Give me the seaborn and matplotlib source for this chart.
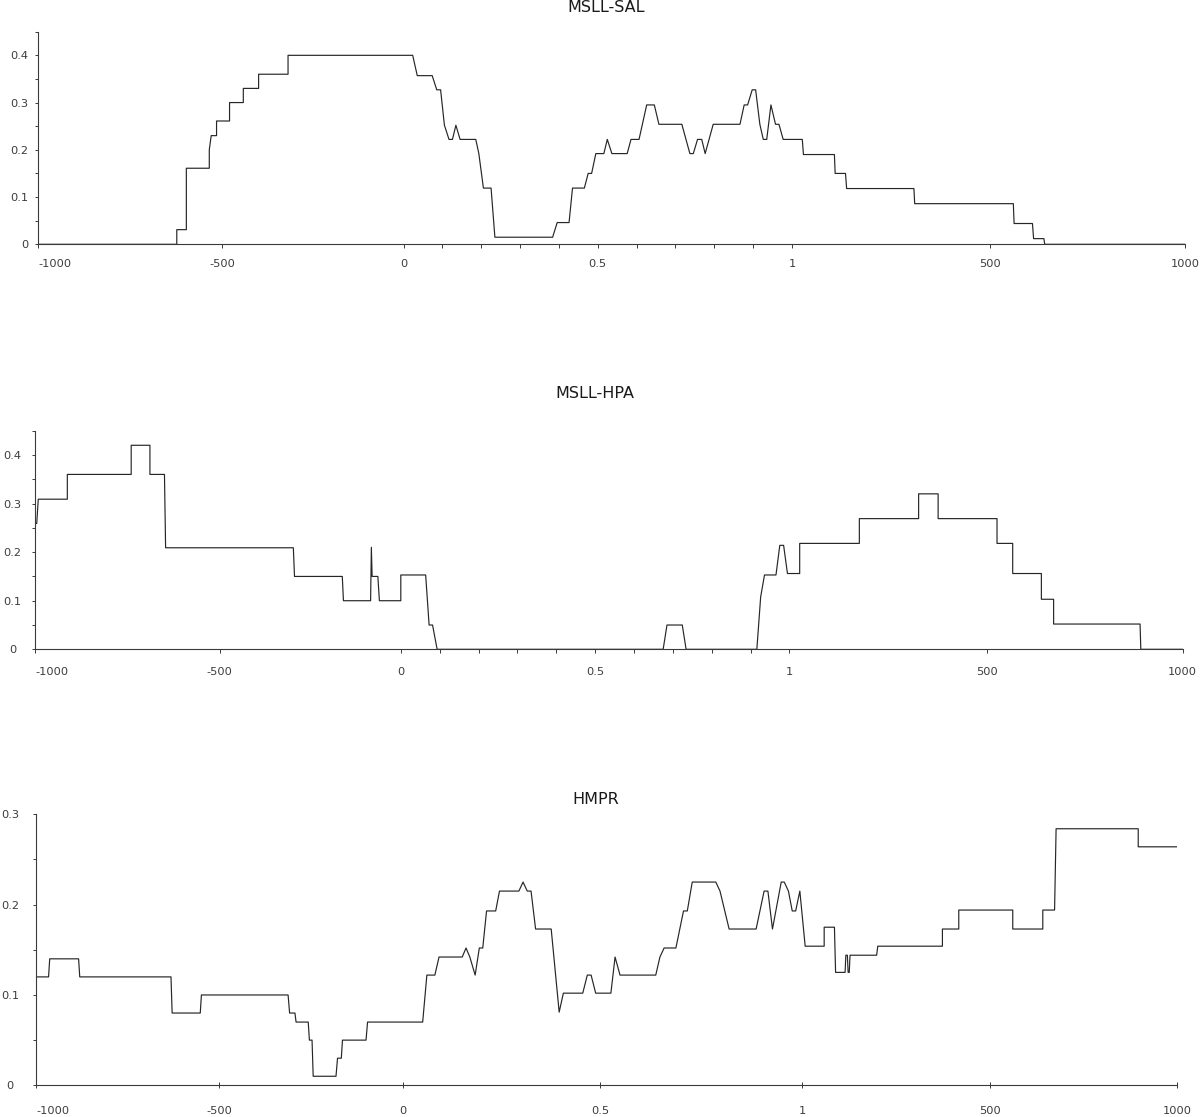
import matplotlib
matplotlib.use("Agg")
import matplotlib.pyplot as plt
import pandas as pd
import seaborn as sns

FIG_W, FIG_H = 1200, 1117

# x = position along the meta-gene track (0..300 -> 1000 bp upstream, gene body, 1000 bp downstream)
SAL_X = [0, 36.3, 36.3, 38.8, 38.8, 44.8, 44.8, 45.3, 46.7, 46.7, 50.1, 50.1, 53.7, 53.7, 57.7, 57.7,
         65.4, 65.4, 98.0, 99.2, 103.1, 104.3, 105.3, 106.3, 107.5, 108.4, 109.3, 110.4, 114.5, 115.3,
         116.5, 118.5, 119.5, 134.6, 135.8, 138.9, 139.8, 142.9, 143.9, 144.8, 145.9, 148.0, 148.9,
         150.1, 154.1, 155.1, 157.2, 159.2, 161.2, 162.4, 168.4, 170.5, 171.4, 172.5, 173.6, 174.5,
         176.6, 183.6, 184.7, 185.6, 186.8, 187.7, 188.8, 189.7, 190.6, 191.7, 192.9, 193.8, 194.9,
         199.9, 200.2, 208.3, 208.5, 211.2, 211.5, 229.1, 229.3, 255.1, 255.3, 260.1, 260.4, 263.1,
         263.3, 300]
SAL_Y = [0, 0, 0.031, 0.031, 0.161, 0.161, 0.200, 0.230, 0.230, 0.261, 0.261, 0.300, 0.300, 0.330,
         0.330, 0.360, 0.360, 0.400, 0.400, 0.357, 0.357, 0.327, 0.327, 0.252, 0.222, 0.222, 0.252,
         0.222, 0.222, 0.192, 0.119, 0.119, 0.015, 0.015, 0.046, 0.046, 0.119, 0.119, 0.150, 0.150,
         0.192, 0.192, 0.222, 0.192, 0.192, 0.222, 0.222, 0.295, 0.295, 0.254, 0.254, 0.192, 0.192,
         0.222, 0.222, 0.192, 0.254, 0.254, 0.295, 0.295, 0.327, 0.327, 0.254, 0.222, 0.222, 0.295,
         0.254, 0.254, 0.222, 0.222, 0.190, 0.190, 0.150, 0.150, 0.118, 0.118, 0.086, 0.086, 0.044,
         0.044, 0.012, 0.012, 0, 0]

HPA_X = [0, 0.4, 0.8, 8.4, 8.4, 25.1, 25.1, 30.0, 30.0, 33.8, 34.1, 67.5, 67.8, 80.3, 80.6, 87.7,
         87.9, 88.1, 89.6, 90.0, 95.6, 95.6, 102.1, 103.0, 103.9, 105.1, 164.2, 165.2, 169.2, 170.2,
         188.7, 189.7, 190.7, 193.7, 194.7, 195.7, 196.7, 199.9, 199.9, 215.5, 215.5, 231.0, 231.0,
         236.1, 236.1, 251.5, 251.5, 255.6, 255.6, 263.1, 263.1, 266.3, 266.3, 288.9, 289.1, 300]
HPA_Y = [0.259, 0.259, 0.309, 0.309, 0.360, 0.360, 0.420, 0.420, 0.360, 0.360, 0.209, 0.209, 0.150,
         0.150, 0.100, 0.100, 0.210, 0.150, 0.150, 0.100, 0.100, 0.153, 0.153, 0.050, 0.050, 0, 0,
         0.050, 0.050, 0, 0, 0.108, 0.153, 0.153, 0.214, 0.214, 0.156, 0.156, 0.218, 0.218, 0.269,
         0.269, 0.320, 0.320, 0.269, 0.269, 0.218, 0.218, 0.156, 0.156, 0.103, 0.103, 0.052, 0.052,
         0, 0]

HMPR_X = [0, 3.2, 3.5, 11.1, 11.4, 35.4, 35.7, 43.1, 43.4, 66.2, 66.6, 68.0, 68.3, 71.5, 71.8, 72.5,
          72.8, 78.8, 79.2, 80.2, 80.5, 86.7, 87.1, 101.6, 102.7, 104.8, 105.9, 112.0, 113.0, 114.0,
          115.4, 116.5, 117.4, 118.4, 120.8, 121.8, 126.9, 128.0, 129.1, 130.1, 131.3, 135.4, 137.5,
          138.6, 143.7, 144.9, 145.9, 147.1, 151.1, 152.2, 153.5, 162.9, 164.0, 165.1, 168.2, 170.2,
          171.2, 172.5, 178.7, 179.8, 182.2, 189.3, 191.4, 192.4, 193.6, 195.9, 196.7, 197.8, 198.8,
          199.7, 200.8, 202.2, 207.2, 207.2, 209.9, 210.2, 212.7, 212.9, 213.3, 213.5, 213.8, 214.0,
          221.0, 221.3, 238.3, 238.3, 242.6, 242.6, 256.8, 256.8, 264.7, 264.7, 267.8, 268.2, 289.8,
          289.8, 300]
HMPR_Y = [0.120, 0.120, 0.140, 0.140, 0.120, 0.120, 0.080, 0.080, 0.100, 0.100, 0.080, 0.080, 0.070,
          0.070, 0.050, 0.050, 0.010, 0.010, 0.030, 0.030, 0.050, 0.050, 0.070, 0.070, 0.122, 0.122,
          0.142, 0.142, 0.152, 0.142, 0.122, 0.152, 0.152, 0.193, 0.193, 0.215, 0.215, 0.225, 0.215,
          0.215, 0.173, 0.173, 0.081, 0.102, 0.102, 0.122, 0.122, 0.102, 0.102, 0.142, 0.122, 0.122,
          0.142, 0.152, 0.152, 0.193, 0.193, 0.225, 0.225, 0.215, 0.173, 0.173, 0.215, 0.215, 0.173,
          0.225, 0.225, 0.215, 0.193, 0.193, 0.215, 0.154, 0.154, 0.175, 0.175, 0.125, 0.125, 0.144,
          0.144, 0.125, 0.125, 0.144, 0.144, 0.154, 0.154, 0.173, 0.173, 0.194, 0.194, 0.173, 0.173,
          0.194, 0.194, 0.284, 0.284, 0.264, 0.264]

TICK_LABELS = ["-1000", "-500", "0", "0.5", "1", "500", "1000"]
TICKS_AB = [0, 48.2, 95.6, 146.4, 197.2, 248.9, 300]
TICKS_C = [0, 48.0, 96.3, 148.2, 201.4, 250.7, 300]

LINE_COLOR = "#262626"
AXIS_COLOR = "#3a3a3a"
TEXT_COLOR = "#3c3c3c"


def px_rect(left, top, right, bottom):
    # pixel box (origin top-left) -> figure fraction rect
    return [left / FIG_W, 1 - bottom / FIG_H, (right - left) / FIG_W, (bottom - top) / FIG_H]


PANELS = [
    dict(title="MSLL-SAL", x=SAL_X, y=SAL_Y, box=(38, 31.7, 1185, 244.3), ymax=0.45,
         yticks=[0, 0.1, 0.2, 0.3, 0.4], yminor=[0.05, 0.15, 0.25, 0.35, 0.45],
         xticks=TICKS_AB, gene_minor=True, xdir="out", xpad=7.9, yha="right", ypad=4.7,
         title_pos=(606, 8)),
    dict(title="MSLL-HPA", x=HPA_X, y=HPA_Y, box=(35.2, 430.7, 1182.5, 649.3), ymax=0.45,
         yticks=[0, 0.1, 0.2, 0.3, 0.4], yminor=[0.05, 0.15, 0.25, 0.35, 0.45],
         xticks=TICKS_AB, gene_minor=True, xdir="out", xpad=10.4, yha="center", ypad=14.2,
         title_pos=(595, 394)),
    dict(title="HMPR", x=HMPR_X, y=HMPR_Y, box=(36.4, 814.3, 1177, 1085.3), ymax=0.3,
         yticks=[0, 0.1, 0.2, 0.3], yminor=[0.05, 0.15, 0.25],
         xticks=TICKS_C, gene_minor=False, xdir="inout", xpad=12.6, yha="center", ypad=16.6,
         title_pos=(596, 799)),
]


def draw_panel(fig, p):
    ax = fig.add_axes(px_rect(*p["box"]))
    df = pd.DataFrame({"pos": p["x"], "value": p["y"]})
    sns.lineplot(data=df, x="pos", y="value", ax=ax, sort=False, estimator=None,
                 color=LINE_COLOR, linewidth=0.85)
    ax.set_xlim(0, 300)
    ax.set_ylim(0, p["ymax"])
    ax.set_xlabel("")
    ax.set_ylabel("")

    for side in ("top", "right"):
        ax.spines[side].set_visible(False)
    for side in ("left", "bottom"):
        ax.spines[side].set_color(AXIS_COLOR)
        ax.spines[side].set_linewidth(0.8)

    ax.set_xticks(p["xticks"])
    ax.set_xticklabels(TICK_LABELS)
    if p["gene_minor"]:
        g0, g1 = p["xticks"][2], p["xticks"][4]
        ax.set_xticks([g0 + (g1 - g0) * k / 10 for k in range(1, 10)], minor=True)
    ax.set_yticks(p["yticks"])
    ax.set_yticklabels(["0" if v == 0 else f"{v:.1f}" for v in p["yticks"]])
    ax.set_yticks(p["yminor"], minor=True)

    xlen = 4.0 if p["xdir"] == "inout" else 2.6
    ax.tick_params(axis="x", which="both", bottom=True, direction=p["xdir"], length=xlen,
                   width=0.7, color=AXIS_COLOR, labelsize=8.2, labelcolor=TEXT_COLOR,
                   pad=p["xpad"])
    ax.tick_params(axis="y", which="both", left=True, direction="out", length=2.2, width=0.7,
                   color=AXIS_COLOR, labelsize=8.2, labelcolor=TEXT_COLOR, pad=p["ypad"])
    for lab in ax.get_yticklabels():
        lab.set_horizontalalignment(p["yha"])
    ax.get_xticklabels()[0].set_horizontalalignment("left")

    tx, ty = p["title_pos"]
    fig.text(tx / FIG_W, 1 - ty / FIG_H, p["title"], ha="center", va="center",
             fontsize=11.5, color="#1a1a1a")
    return ax


def main():
    sns.set_style("white")
    plt.rcParams["font.family"] = ["DejaVu Sans"]
    fig = plt.figure(figsize=(FIG_W / 100, FIG_H / 100), dpi=100)
    for p in PANELS:
        draw_panel(fig, p)
    fig.savefig("out.png", dpi=100, facecolor="white")
    plt.close(fig)


if __name__ == "__main__":
    main()
